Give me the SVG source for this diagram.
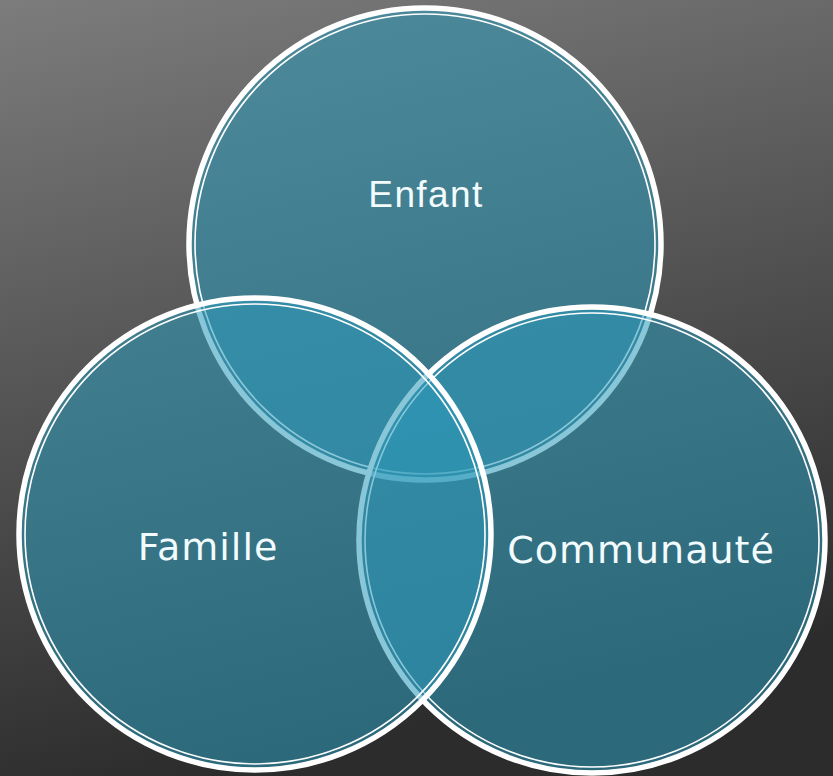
<svg xmlns="http://www.w3.org/2000/svg" width="833" height="776" viewBox="0 0 833 776">
  <defs>
    <linearGradient id="bg" x1="0" y1="0" x2="0.25" y2="1">
      <stop offset="0" stop-color="#7c7c7c"/>
      <stop offset="1" stop-color="#2c2c2c"/>
    </linearGradient>
  </defs>
  <style>
    .fill { fill: rgb(44,154,186); fill-opacity: 0.56; stroke: none; }
    .outer { fill: none; stroke: #ffffff; stroke-width: 5.5; }
    .inner { fill: none; stroke: #ffffff; stroke-width: 1.6; }
    .lbl { fill: #f2fbfd; font-family: "DejaVu Sans", sans-serif; font-size: 38px; letter-spacing: 1px; text-anchor: middle; }
    .lbl2 { fill: #f2fbfd; font-family: "Liberation Sans", Arial, sans-serif; font-size: 37px; letter-spacing: 1.4px; text-anchor: middle; }
  </style>
  <rect x="0" y="0" width="833" height="776" fill="url(#bg)"/>
  <g id="enfant">
    <circle class="fill" cx="425" cy="244" r="236"/>
    <circle class="outer" cx="425" cy="244" r="236"/>
    <circle class="inner" cx="425" cy="244" r="230"/>
    <text class="lbl2" x="426" y="207">Enfant</text>
  </g>
  <g id="communaute">
    <circle class="fill" cx="592" cy="540" r="233"/>
    <circle class="outer" cx="592" cy="540" r="233"/>
    <circle class="inner" cx="592" cy="540" r="227"/>
    <text class="lbl" x="641" y="563">Communauté</text>
  </g>
  <g id="famille">
    <circle class="fill" cx="255" cy="534" r="236"/>
    <circle class="outer" cx="255" cy="534" r="236"/>
    <circle class="inner" cx="255" cy="534" r="230"/>
    <text class="lbl" x="208" y="560">Famille</text>
  </g>
  <g id="connectors"/>
</svg>
